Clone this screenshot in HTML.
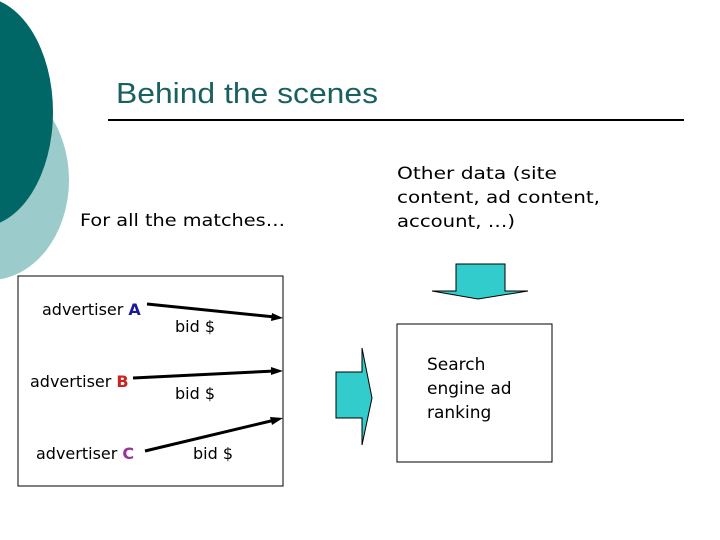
<!DOCTYPE html>
<html><head><meta charset="utf-8"><style>html,body{margin:0;padding:0;background:#fff}svg{display:block}</style></head>
<body>
<svg width="720" height="540" viewBox="0 0 720 540" xmlns="http://www.w3.org/2000/svg" font-family="DejaVu Sans, Liberation Sans, sans-serif">
<rect width="720" height="540" fill="#fff"/>
<ellipse cx="-10" cy="180" rx="79" ry="100" fill="#9ccbcc"/>
<ellipse cx="-20" cy="112" rx="73" ry="115" fill="#006666"/>
<text x="116" y="103" font-family="Liberation Sans, sans-serif" font-size="29" fill="#1a6060" textLength="262" lengthAdjust="spacingAndGlyphs">Behind the scenes</text>
<line x1="108" y1="120" x2="684" y2="120" stroke="#000" stroke-width="2"/>
<g font-size="17" fill="#000">
<text x="80" y="226" textLength="205" lengthAdjust="spacingAndGlyphs">For all the matches…</text>
<text x="397" y="179" textLength="160" lengthAdjust="spacingAndGlyphs">Other data (site</text>
<text x="397" y="203" textLength="203" lengthAdjust="spacingAndGlyphs">content, ad content,</text>
<text x="397" y="227" textLength="118" lengthAdjust="spacingAndGlyphs">account, …)</text>
</g>
<rect x="18" y="276" width="265" height="210" fill="none" stroke="#000" stroke-width="1"/>
<g font-size="16" fill="#000">
<text x="42" y="315">advertiser <tspan fill="#1a1a99" font-weight="bold">A</tspan></text>
<text x="30" y="387">advertiser <tspan fill="#cc2222" font-weight="bold">B</tspan></text>
<text x="36" y="459">advertiser <tspan fill="#993399" font-weight="bold">C</tspan></text>
<text x="175" y="332">bid $</text>
<text x="175" y="399">bid $</text>
<text x="193" y="459">bid $</text>
</g>
<g stroke="#000" stroke-width="3" fill="#000">
<line x1="147" y1="304" x2="275" y2="317"/>
<line x1="133" y1="378" x2="275" y2="371"/>
<line x1="145" y1="451" x2="275" y2="420"/>
</g>
<polygon points="283,318 271,321 272,313" fill="#000"/>
<polygon points="283,371 271,375 271,367" fill="#000"/>
<polygon points="283,418 272,425 270,417" fill="#000"/>
<polygon points="456,264 505,264 505,291 528,291 478,299 432,291 456,291" fill="#33cccc" stroke="#000" stroke-width="1"/>
<polygon points="336,372 362,372 362,348 372,398 362,445 362,418 336,418" fill="#33cccc" stroke="#000" stroke-width="1"/>
<rect x="397" y="324" width="155" height="138" fill="#fff" stroke="#000" stroke-width="1"/>
<g font-size="17" fill="#000">
<text x="427" y="370">Search</text>
<text x="427" y="394">engine ad</text>
<text x="427" y="418">ranking</text>
</g>
</svg>
</body></html>
